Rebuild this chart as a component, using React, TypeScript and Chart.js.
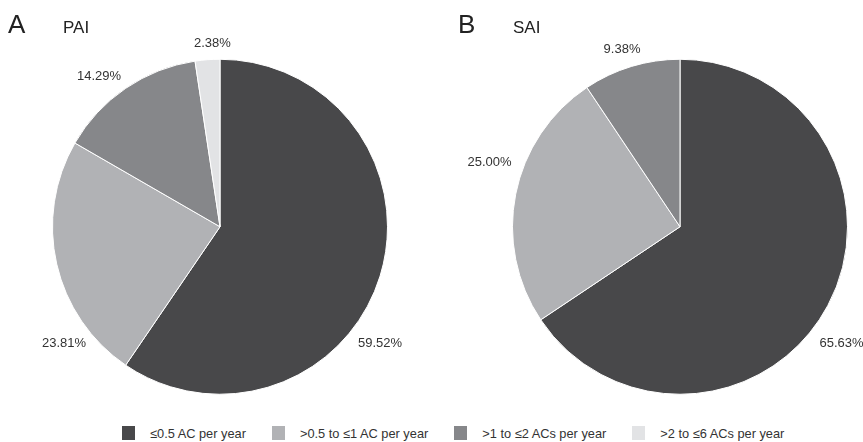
import React, { useEffect, useRef } from "react";
import { Chart, registerables } from "chart.js";

Chart.register(...registerables);

const categories = [
  "≤0.5 AC per year",
  ">0.5 to ≤1 AC per year",
  ">1 to ≤2 ACs per year",
  ">2 to ≤6 ACs per year",
];
const paiValues = [59.52, 23.81, 14.29, 2.38];
const saiValues = [65.63, 25.0, 9.38, 0];
const colors = ["#48484a", "#b1b2b5", "#86878a", "#e2e3e5"];

// label placement relative to pie centre, in units of the pie radius
const paiLabelOffsets = [
  [0.955, 0.696],
  [-0.931, 0.696],
  [-0.722, -0.899],
  [-0.045, -1.096],
];
const saiLabelOffsets = [
  [0.964, 0.696],
  [-1.137, -0.387],
  [-0.346, -1.06],
  [0, 0],
];

const FONT = '"Liberation Sans", Arial, Helvetica, sans-serif';

type PieCfg = {
  values: number[];
  offsets: number[][];
  letter: string;
  title: string;
  letterX: number;
  titleX: number;
  padding: { left: number; right: number; top: number; bottom: number };
};

function makePlugin(cfg: PieCfg) {
  return {
    id: "outLabels",
    afterDatasetsDraw(chart: any) {
      const ctx = chart.ctx as CanvasRenderingContext2D;
      const meta = chart.getDatasetMeta(0);
      const data = chart.data.datasets[0].data as number[];
      ctx.save();
      ctx.font = `13px ${FONT}`;
      ctx.fillStyle = "#333333";
      ctx.textAlign = "center";
      ctx.textBaseline = "middle";
      meta.data.forEach((arc: any, i: number) => {
        const v = data[i];
        if (!v) return;
        const p = arc.getProps(["x", "y", "outerRadius"], true);
        const [dx, dy] = cfg.offsets[i];
        ctx.fillText(v.toFixed(2) + "%", p.x + dx * p.outerRadius, p.y + dy * p.outerRadius);
      });
      ctx.textAlign = "left";
      ctx.textBaseline = "alphabetic";
      ctx.fillStyle = "#222222";
      ctx.font = `26px ${FONT}`;
      ctx.fillText(cfg.letter, cfg.letterX, 33);
      ctx.font = `17px ${FONT}`;
      ctx.fillText(cfg.title, cfg.titleX, 33);
      ctx.restore();
    },
  };
}

function PieChart({ cfg, style }: { cfg: PieCfg; style: React.CSSProperties }) {
  const ref = useRef<HTMLCanvasElement | null>(null);
  useEffect(() => {
    if (!ref.current) return;
    const chart = new Chart(ref.current, {
      type: "pie",
      data: {
        labels: categories,
        datasets: [
          {
            data: cfg.values,
            backgroundColor: colors,
            borderColor: "#ffffff",
            borderWidth: 1,
          },
        ],
      },
      options: {
        animation: false,
        responsive: true,
        maintainAspectRatio: false,
        layout: { padding: cfg.padding },
        plugins: {
          legend: { display: false },
          tooltip: { enabled: false },
        },
      },
      plugins: [makePlugin(cfg)],
    });
    return () => chart.destroy();
  }, []);
  return (
    <div style={{ position: "absolute", ...style }}>
      <canvas ref={ref} />
    </div>
  );
}

const paiCfg: PieCfg = {
  values: paiValues,
  offsets: paiLabelOffsets,
  letter: "A",
  title: "PAI",
  letterX: 8,
  titleX: 63,
  padding: { left: 52, right: 43, top: 58.5, bottom: 15 },
};

const saiCfg: PieCfg = {
  values: saiValues,
  offsets: saiLabelOffsets,
  letter: "B",
  title: "SAI",
  letterX: 27,
  titleX: 82,
  padding: { left: 81, right: 15, top: 58.5, bottom: 15 },
};

export default function App() {
  return (
    <div
      style={{
        position: "absolute",
        left: 0,
        top: 0,
        width: 863,
        height: 442,
        background: "#ffffff",
        overflow: "hidden",
        fontFamily: FONT,
      }}
    >
      <PieChart cfg={paiCfg} style={{ left: 0, top: 0, width: 431, height: 410 }} />
      <PieChart cfg={saiCfg} style={{ left: 431, top: 0, width: 432, height: 410 }} />
      <div
        style={{
          position: "absolute",
          left: 122,
          top: 426,
          height: 14,
          display: "flex",
          alignItems: "center",
          fontSize: "12.8px",
          color: "#333333",
          whiteSpace: "nowrap",
        }}
      >
        {categories.map((c, i) => (
          <div key={c} style={{ display: "flex", alignItems: "center", marginRight: 26 }}>
            <span
              style={{
                display: "inline-block",
                width: 13,
                height: 14,
                background: colors[i],
                marginRight: 15,
              }}
            />
            <span>{c}</span>
          </div>
        ))}
      </div>
    </div>
  );
}
